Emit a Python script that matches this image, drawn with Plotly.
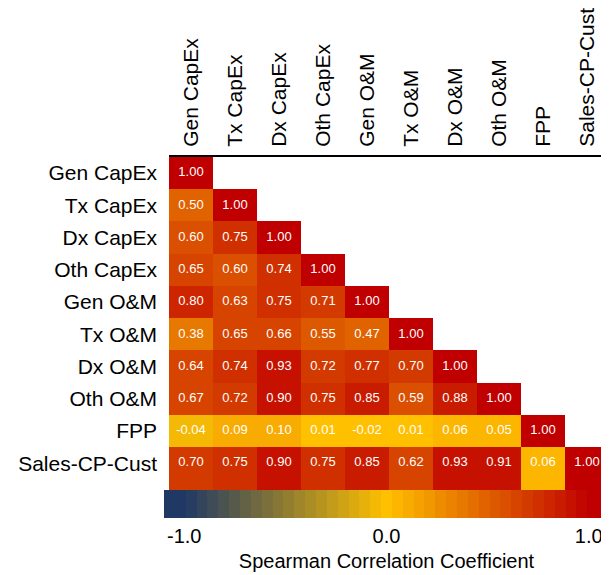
import plotly.graph_objects as go

# ---------------- data ----------------
labels = ["Gen CapEx", "Tx CapEx", "Dx CapEx", "Oth CapEx", "Gen O&M",
          "Tx O&M", "Dx O&M", "Oth O&M", "FPP", "Sales-CP-Cust"]

row_gen_capex = [1.00]
row_tx_capex = [0.50, 1.00]
row_dx_capex = [0.60, 0.75, 1.00]
row_oth_capex = [0.65, 0.60, 0.74, 1.00]
row_gen_om = [0.80, 0.63, 0.75, 0.71, 1.00]
row_tx_om = [0.38, 0.65, 0.66, 0.55, 0.47, 1.00]
row_dx_om = [0.64, 0.74, 0.93, 0.72, 0.77, 0.70, 1.00]
row_oth_om = [0.67, 0.72, 0.90, 0.75, 0.85, 0.59, 0.88, 1.00]
row_fpp = [-0.04, 0.09, 0.10, 0.01, -0.02, 0.01, 0.06, 0.05, 1.00]
row_sales = [0.70, 0.75, 0.90, 0.75, 0.85, 0.62, 0.93, 0.91, 0.06, 1.00]

corr_rows = [row_gen_capex, row_tx_capex, row_dx_capex, row_oth_capex,
             row_gen_om, row_tx_om, row_dx_om, row_oth_om, row_fpp, row_sales]

colorbar_tickvals = [-1.0, 0.0, 1.0]
colorbar_ticktext = ["-1.0", "0.0", "1.0"]
colorbar_title = "Spearman Correlation Coefficient"

# ---------------- style ----------------
FONT = "Liberation Sans, Arial, sans-serif"
NAVY = (31, 56, 100)
GOLD = (255, 192, 0)
RED = (192, 0, 0)
CMIN, CMAX = -1.1, 1.1
N_STEPS = 41
LAST_ROW_EXTENT = 1.33  # bottom row drawn taller, reaching the colour bar

# page body has an 8px default margin, so the figure is drawn 8px smaller
W, H = 601, 567
M_L, M_R, M_T, M_B = 161, 0, 149, 83
PLOT_W = W - M_L - M_R
CB_LEFT_PX, CB_TOP_PX, CB_LEN_PX, CB_THICK_PX = 156, 482, 445, 28


def color_at(v):
    v = max(-1.0, min(1.0, v))
    if v < 0:
        a, b, t = NAVY, GOLD, v + 1.0
    else:
        a, b, t = GOLD, RED, v
    return "rgb(%d,%d,%d)" % tuple(round(a[i] + (b[i] - a[i]) * t) for i in range(3))


colorscale = []
for k in range(N_STEPS):
    lo, hi = k / N_STEPS, (k + 1) / N_STEPS
    c = color_at(CMIN + (CMAX - CMIN) * (lo + hi) / 2)
    colorscale += [[lo, c], [hi, c]]
colorscale[-1][0] = 1.0

n = len(labels)
z = [[row[j] if j < len(row) else None for j in range(n)] for row in corr_rows]
y_edges = [float(i) for i in range(n)] + [n - 1 + LAST_ROW_EXTENT]

# text positions (cell centres)
tx, ty, tt = [], [], []
for i, row in enumerate(corr_rows):
    for j, v in enumerate(row):
        tx.append(labels[j])
        ty.append(i + 0.5)
        tt.append(f"{v:.2f}")

fig = go.Figure()
fig.add_trace(go.Heatmap(
    z=z, x=labels, y=y_edges,
    zmin=CMIN, zmax=CMAX, colorscale=colorscale,
    hoverongaps=False, hoverinfo="skip",
    colorbar=dict(
        orientation="h",
        xref="container", yref="container",
        x=CB_LEFT_PX / PLOT_W, xanchor="left",
        y=(H - CB_TOP_PX) / H, yanchor="top",
        len=CB_LEN_PX, lenmode="pixels",
        thickness=CB_THICK_PX, thicknessmode="pixels",
        xpad=0, ypad=0, outlinewidth=0,
        tickvals=colorbar_tickvals, ticktext=colorbar_ticktext,
        ticks="", ticklabeloverflow="allow",
        tickfont=dict(family=FONT, size=20, color="black"),
        title=dict(text=colorbar_title, side="bottom",
                   font=dict(family=FONT, size=20, color="black")),
    ),
))
fig.add_trace(go.Scatter(
    x=tx, y=ty, text=tt, mode="text",
    textfont=dict(family=FONT, size=13, color="white"),
    hoverinfo="skip", showlegend=False,
))

fig.update_layout(
    width=W, height=H,
    margin=dict(l=M_L, r=M_R, t=M_T, b=M_B, pad=0),
    paper_bgcolor="white", plot_bgcolor="white",
    showlegend=False,
    font=dict(family=FONT, color="black"),
    xaxis=dict(side="top", tickangle=-90, showline=True, linecolor="black",
               linewidth=2, ticks="", showgrid=False, zeroline=False,
               range=[-0.5, n - 0.5], tickfont=dict(size=21, color="black"),
               ticklabelstandoff=4, fixedrange=True),
    yaxis=dict(range=[n - 1 + LAST_ROW_EXTENT, 0],
               tickvals=[i + 0.5 for i in range(n)], ticktext=labels,
               showgrid=False, zeroline=False, showline=False, ticks="",
               tickfont=dict(size=21, color="black"), ticklabelstandoff=11,
               fixedrange=True),
)

fig.write_html("out.html", config={"displayModeBar": False})
